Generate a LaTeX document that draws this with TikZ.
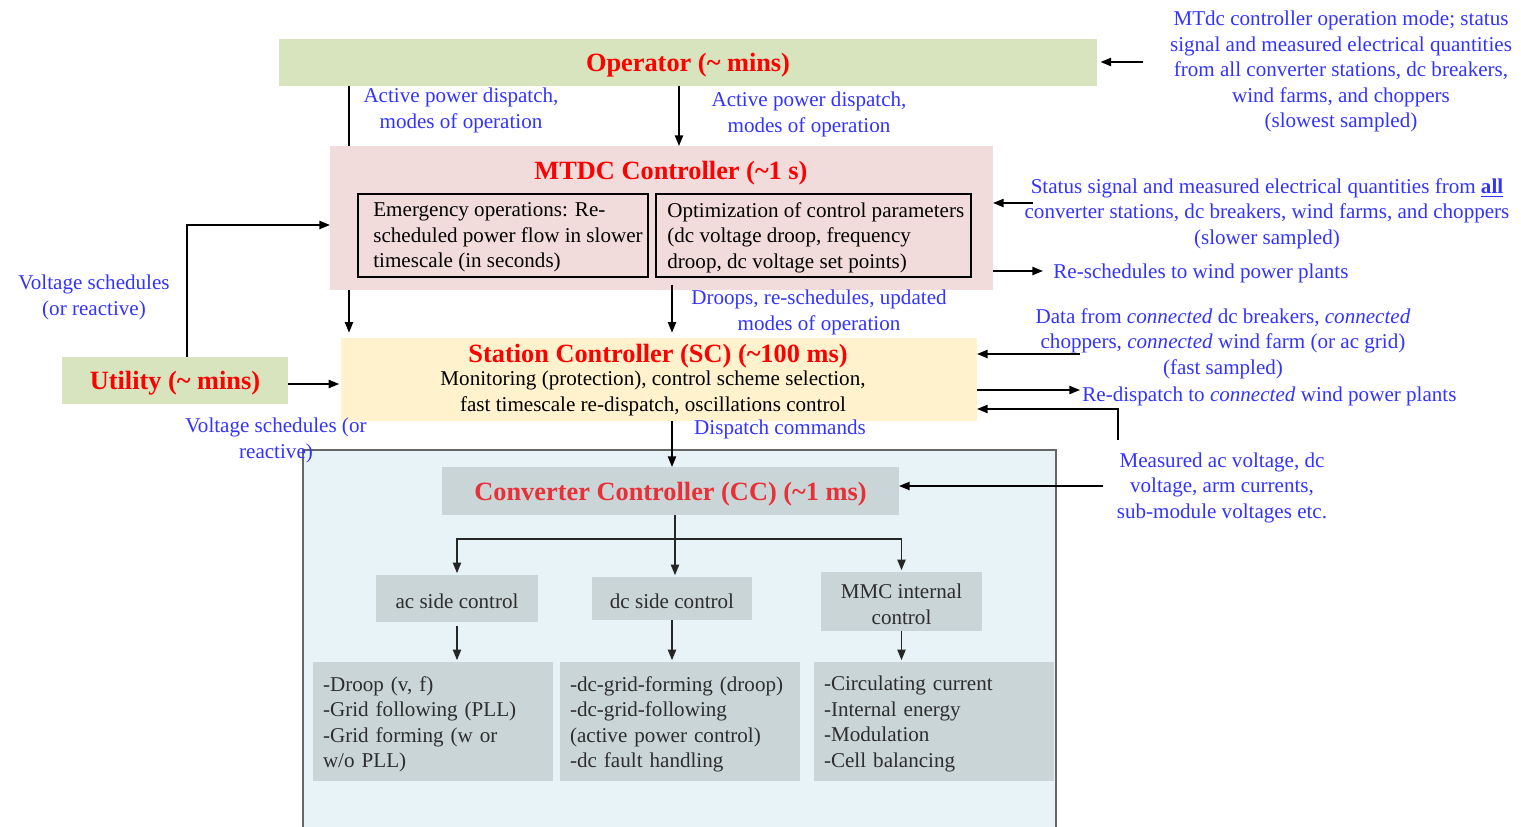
\documentclass[tikz,border=0pt]{standalone}
\usepackage{fontspec}
\setmainfont{Liberation Serif}
\usetikzlibrary{arrows.meta,fit}
\definecolor{opgreen}{RGB}{215,228,189}
\definecolor{mtdcpink}{RGB}{242,220,219}
\definecolor{scyellow}{RGB}{255,242,204}
\definecolor{ccbg}{RGB}{232,243,248}
\definecolor{ccgrey}{RGB}{202,213,216}
\definecolor{lblblue}{RGB}{51,51,255}
\definecolor{titlered}{RGB}{255,0,0}
\definecolor{ccred}{RGB}{232,48,54}
\definecolor{darktxt}{RGB}{45,45,45}
\newcommand{\bodyfont}{\fontsize{12}{14.5}\selectfont}
\newcommand{\headfont}{\fontsize{15}{18}\selectfont\bfseries}
\tikzset{
  area/.style={inner sep=0pt, outer sep=0pt},
  kop/.style={area, fill=opgreen},
  kmtdc/.style={area, fill=mtdcpink},
  ksc/.style={area, fill=scyellow},
  kinner/.style={area, draw=black, line width=1.2pt},
  kgrey/.style={area, fill=ccgrey},
  ktitle/.style={inner sep=0pt, yshift=-1.6pt, font=\headfont, text=titlered},
  ktext/.style={inner sep=0pt, yshift=-1.5pt, font=\bodyfont, align=left},
  kgreytext/.style={inner sep=0pt, yshift=-1.5pt, font=\bodyfont, text=darktxt, align=center},
  klisttext/.style={kgreytext, align=left, text width=4.4cm},
  lbl/.style={inner sep=0pt, yshift=-1.5pt, font=\bodyfont, text=lblblue, align=center},
  flow/.style={-{Triangle[length=6pt, width=4.6pt]}, line width=1pt},
  ccflow/.style={flow, draw=black!85, shorten >=1pt},
}

\begin{document}
\begin{tikzpicture}[x=0.02cm, y=-0.02cm]
  \useasboundingbox (0,0) rectangle (1521,827);

  % converter level background
  \node[area, fill=ccbg, draw=black!60, line width=0.7pt, fit={(303,450) (1056,845)}] (ccarea) {};

  \node[kop, fit={(279,39) (1097,86)}] (op) {};
  \node[ktitle] (opt) at (op.center) {Operator (\textasciitilde{} mins)};
  \node[kop, fit={(62,357) (288,404)}] (util) {};
  \node[ktitle] (utilt) at (util.center) {Utility (\textasciitilde{} mins)};
  \node[ksc, fit={(341,338) (977,421)}] (sc) {};
  \node[ktitle] (sct) at (658,353) {Station Controller (SC) (\textasciitilde100 ms)};
  \node[ktext, align=center] (scx) at (653,391) {Monitoring (protection), control scheme selection,\\fast timescale re-dispatch, oscillations control};

  % operator straight to SC, runs behind MTDC box
  \coordinate (xa) at (349,0);
  \draw[flow, shorten >=3pt] (op.south -| xa) -- (sc.north -| xa);

  \node[kmtdc, fit={(330,146) (993,290)}] (mtdc) {};
  \node[ktitle] (mtdct) at (671,170) {MTDC Controller (\textasciitilde1 s)};
  \node[kinner, fit={(358,194) (648,277)}] (emg) {};
  \node[ktext, anchor=west] (emgx) at (373,235) {Emergency operations: Re-\\scheduled power flow in slower\\timescale (in seconds)};
  \node[kinner, fit={(656,194) (971,277)}] (optim) {};
  \node[ktext, anchor=west] (optimx) at (667,235) {Optimization of control parameters\\(dc voltage droop, frequency\\droop, dc voltage set points)};

  % converter controller
  \node[kgrey, fit={(442,467) (899,515)}] (cc) {};
  \node[ktitle, text=ccred] (cct) at (cc.center) {Converter Controller (CC) (\textasciitilde1 ms)};
  \node[kgrey, fit={(376,575) (538,622)}] (acs) {};
  \node[kgreytext] (acst) at (acs.center) {ac side control};
  \node[kgrey, fit={(592,577) (752,620)}] (dcs) {};
  \node[kgreytext] (dcst) at (dcs.center) {dc side control};
  \node[kgrey, fit={(821,572) (982,631)}] (mmc) {};
  \node[kgreytext] (mmct) at (mmc.center) {MMC internal\\control};
  \node[kgrey, fit={(313,662) (553,781)}] (acl) {};
  \node[klisttext] (aclt) at (acl.center) {-Droop (v, f)\\-Grid following (PLL)\\-Grid forming (w or\\w/o PLL)};
  \node[kgrey, fit={(560,662) (800,781)}] (dcl) {};
  \node[klisttext] (dclt) at (dcl.center) {-dc-grid-forming (droop)\\-dc-grid-following\\(active power control)\\-dc fault handling};
  \node[kgrey, fit={(814,662) (1054,781)}] (mmcl) {};
  \node[klisttext] (mmclt) at (mmcl.center) {-Circulating current\\-Internal energy\\-Modulation\\-Cell balancing};

  % labels
  \node[lbl] (lop) at (1341,69) {MTdc controller operation mode; status\\signal and measured electrical quantities\\from all converter stations, dc breakers,\\wind farms, and choppers\\(slowest sampled)};
  \node[lbl] (lact1) at (461,108) {Active power dispatch,\\modes of operation};
  \node[lbl] (lact2) at (809,112) {Active power dispatch,\\modes of operation};
  \node[lbl] (lstat) at (1267,211) {Status signal and measured electrical quantities from \underline{\textbf{all}}\\converter stations, dc breakers, wind farms, and choppers\\(slower sampled)};
  \node[lbl, anchor=west] (lres) at (1053,271) {Re-schedules to wind power plants};
  \node[lbl] (ldroop) at (819,310) {Droops, re-schedules, updated\\modes of operation};
  \node[lbl] (lvolt) at (94,295) {Voltage schedules\\(or reactive)};
  \node[lbl] (ldata) at (1223,341) {Data from \textit{connected} dc breakers, \textit{connected}\\choppers, \textit{connected} wind farm (or ac grid)\\(fast sampled)};
  \node[lbl, anchor=west] (lredis) at (1082,394) {Re-dispatch to \textit{connected} wind power plants};
  \node[lbl] (lvolt2) at (276,438) {Voltage schedules (or\\reactive)};
  \node[lbl] (ldisp) at (780,427) {Dispatch commands};
  \node[lbl] (lmeas) at (1222,485) {Measured ac voltage, dc\\voltage, arm currents,\\sub-module voltages etc.};

  % vertical flows
  \coordinate (xb) at (679,0);
  \coordinate (xd) at (672,0);
  \draw[flow] (op.south -| xb) -- (mtdc.north -| xb);
  \draw[flow, shorten >=3pt] ([yshift=3pt]mtdc.south -| xd) -- (sc.north -| xd);
  \draw[flow] (sc.south -| xd) -- (cc.north -| xd);

  % utility
  \coordinate (ua) at (187,225);
  \draw[flow] (util.north -| ua) |- (mtdc.west |- ua);
  \coordinate (ub) at (0,384);
  \draw[flow, shorten >=1pt] (util.east |- ub) -- (sc.west |- ub);

  % measurements and dispatch on the right
  \coordinate (opin) at (1143,62);
  \draw[flow, shorten >=2pt] (opin) -- (op.east |- opin);
  \coordinate (mtin) at (1033,203);
  \draw[flow] (mtin) -- (mtdc.east |- mtin);
  \coordinate (mtout) at (1043,271);
  \draw[flow] (mtdc.east |- mtout) -- (mtout);
  \coordinate (scin) at (1080,354);
  \draw[flow] (scin) -- (sc.east |- scin);
  \coordinate (scout) at (1080,390);
  \draw[flow] (sc.east |- scout) -- (scout);
  \coordinate (measin) at (1118,440);
  \coordinate (scm) at (1118,409);
  \draw[flow] (measin) |- (sc.east |- scm);
  \coordinate (ccin) at (1103,486);
  \draw[flow] (ccin) -- (cc.east |- ccin);

  % inside converter controller
  \coordinate (br) at (675,539);
  \draw[ccflow] (cc.south -| br) -- (dcs.north -| br);
  \draw[ccflow] (br) -| (acs.north);
  \draw[ccflow] (br) -| (mmc.north);
  \draw[ccflow] ([yshift=-2pt]acs.south) -- (acs.south |- acl.north);
  \draw[ccflow] (dcs.south) -- (dcs.south |- dcl.north);
  \draw[ccflow] (mmc.south) -- (mmc.south |- mmcl.north);
\end{tikzpicture}
\end{document}
